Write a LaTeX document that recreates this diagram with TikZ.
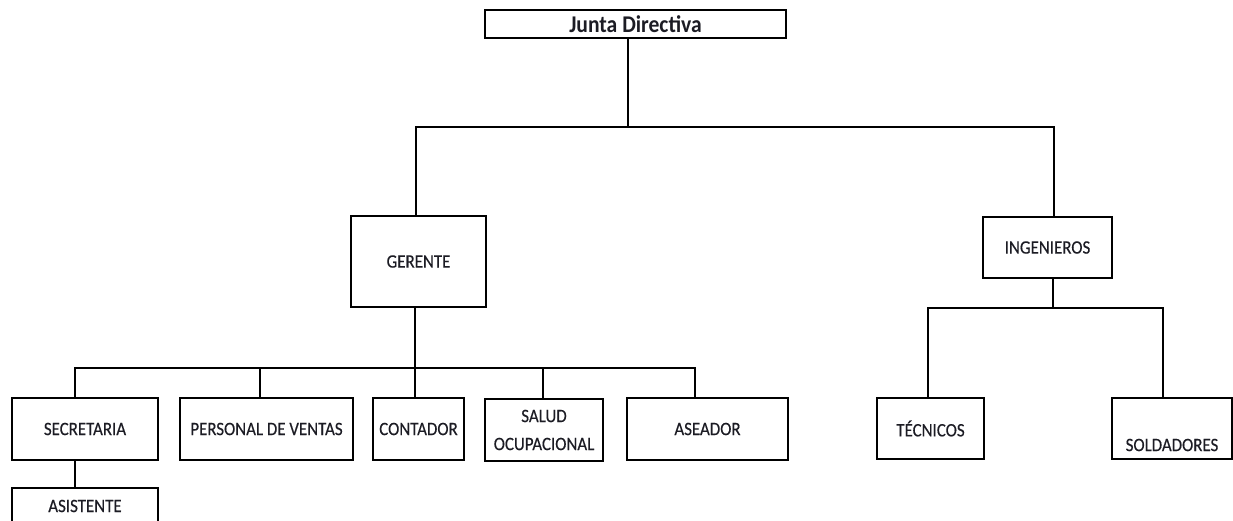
\documentclass[tikz,border=0pt]{standalone}
\usepackage{fontspec}
\setmainfont{Carlito}
\newfontfamily\boxfont[FakeStretch=0.89,FakeBold=0.3]{Carlito}
\newfontfamily\headfont[FakeStretch=0.9]{Carlito}
\definecolor{txt}{HTML}{1C1C24}
\begin{document}
\begin{tikzpicture}[x=1pt,y=-1pt,
  box/.style={draw=black, line width=2pt, fill=white, inner sep=0pt,
    font=\boxfont\fontsize{19}{22}\selectfont, text=txt, align=center},
  plain/.style={inner sep=0pt, font=\boxfont\fontsize{19}{22}\selectfont, text=txt},
  link/.style={draw=black, line width=2pt}]
\useasboundingbox (0,0) rectangle (1233,520);
\clip (0,0) rectangle (1233,520);

% top level
\node[box, minimum width=301pt, minimum height=28pt, font=\headfont\fontsize{24}{27}\selectfont\bfseries]
  (jd) at (635.5,24) {Junta Directiva};

% second level
\node[box, minimum width=135pt, minimum height=91pt] (ger) at (418.5,261.5) {GERENTE};
\node[box, minimum width=129pt, minimum height=61pt] (ing) at (1047.5,247.5) {INGENIEROS};

% staff under the manager
\node[box, minimum width=146pt, minimum height=62pt] (sec) at (85,429) {SECRETARIA};
\node[box, minimum width=173pt, minimum height=62pt] (pv)  at (266.5,429) {PERSONAL DE VENTAS};
\node[box, minimum width=91pt,  minimum height=62pt] (con) at (418.5,429) {CONTADOR};
\node[box, minimum width=118pt, minimum height=62pt, font=\boxfont\fontsize{19}{28}\selectfont] (sal) at (544,430) {SALUD\\OCUPACIONAL};
\node[box, minimum width=161pt, minimum height=62pt] (ase) at (707.5,429) {ASEADOR};
\node[box, minimum width=146pt, minimum height=36pt] (asi) at (85,506) {ASISTENTE};

% staff under the engineers
\node[box, minimum width=107pt, minimum height=61pt] (tec) at (930.5,428.5) {TÉCNICOS};
\node[box, minimum width=120pt, minimum height=61pt] (sol) at (1172,428.5) {};
\node[plain] (soltxt) at (1172,445) {SOLDADORES};

% bus lines
\coordinate (b1M) at (628,127);
\coordinate (b1L) at (416,127);
\coordinate (b1R) at (1054,127);
\draw[link] (b1M |- jd.south) -- (b1M);
\draw[link] (b1L |- ger.north) -- (b1L) -- (b1R) -- (b1R |- ing.north);

\coordinate (gC) at (415,368);
\coordinate (gL) at (75,368);
\coordinate (gR) at (695,368);
\coordinate (g2) at (260,368);
\coordinate (g4) at (543,368);
\draw[link] (gC |- ger.south) -- (gC |- con.north);
\draw[link] (gL |- sec.north) -- (gL) -- (gR) -- (gR |- ase.north);
\draw[link] (g2) -- (g2 |- pv.north);
\draw[link] (g4) -- (g4 |- sal.north);
\draw[link] (gL |- sec.south) -- (gL |- asi.north);

\coordinate (iM) at (1053,308);
\coordinate (iL) at (928,308);
\coordinate (iR) at (1163,308);
\draw[link] (iM |- ing.south) -- (iM);
\draw[link] (iL |- tec.north) -- (iL) -- (iR) -- (iR |- sol.north);
\end{tikzpicture}
\end{document}
